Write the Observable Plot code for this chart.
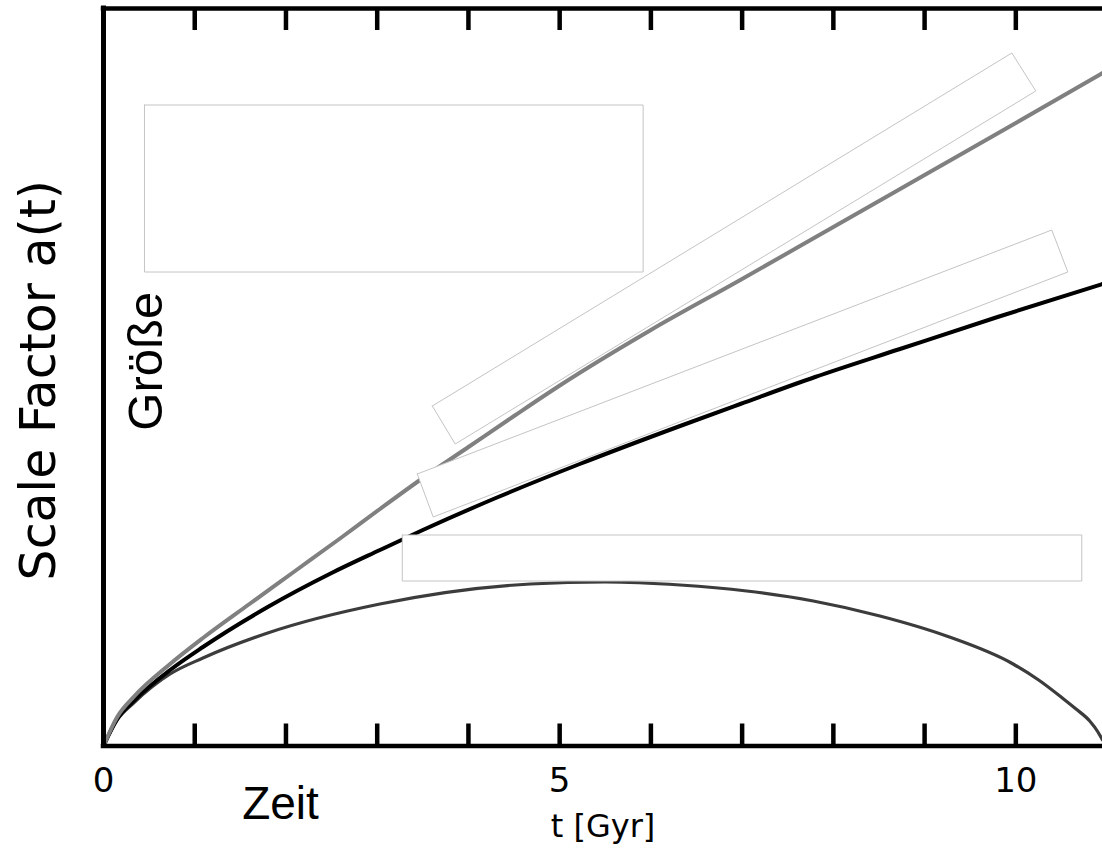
<!DOCTYPE html>
<html>
<head>
<meta charset="utf-8">
<script src="https://cdn.jsdelivr.net/npm/d3@7"></script>
<script src="https://cdn.jsdelivr.net/npm/@observablehq/plot@0.6"></script>
<style>
  html, body { margin: 0; padding: 0; background: #fff; }
  #chart svg { display: block; }
</style>
</head>
<body>
<div id="chart"></div>
<script>
// ---- data ----
const tOpen  = [0, 0.15, 0.33, 0.73, 1.09, 1.6, 2.1, 2.6, 3.03, 3.5, 4.0, 4.5, 5.01, 6.0, 6.98, 8.0, 9.0, 10.0, 10.95];
const aOpen  = [0, 0.29, 0.49, 0.82, 1.08, 1.42, 1.75, 2.08, 2.37, 2.68, 2.99, 3.30, 3.61, 4.16, 4.66, 5.19, 5.71, 6.23, 6.73];

const tFlat  = [0, 0.15, 0.33, 0.73, 1.09, 1.80, 2.50, 3.03, 3.50, 4.30, 5.22, 6.32, 6.98, 7.80, 8.73, 9.80, 10.95];
const aFlat  = [0, 0.27, 0.45, 0.76, 0.99, 1.39, 1.73, 1.96, 2.16, 2.48, 2.82, 3.20, 3.42, 3.69, 3.97, 4.29, 4.62];

const tClosed = [0, 0.15, 0.33, 0.73, 1.09, 1.80, 3.03, 4.68, 5.50, 6.32, 7.05, 7.78, 8.51, 9.24, 9.97, 10.25, 10.51, 10.66, 10.81, 10.90, 10.95];
const aClosed = [0, 0.26, 0.43, 0.72, 0.88, 1.13, 1.42, 1.62, 1.64, 1.61, 1.55, 1.45, 1.30, 1.10, 0.82, 0.66, 0.48, 0.37, 0.25, 0.14, 0.06];

const xTicks = [1, 2, 3, 4, 5, 6, 7, 8, 9, 10];
const xTickLabels = [0, 5, 10];
const xLabel = "t [Gyr]";
const yLabel = "Scale Factor a(t)";
const xNote = "Zeit";
const yNote = "Größe";

// blank label boxes (corners in data units)
const boxIds = ["A","A","A","A","A", "B","B","B","B","B", "C","C","C","C","C", "D","D","D","D","D"];
const boxT = [0.449, 5.915, 5.915, 0.449, 0.449,
              3.275, 10.723, 10.723, 3.275, 3.275,
              3.604, 9.956, 10.219, 3.855, 3.604,
              3.439, 10.394, 10.570, 3.614, 3.439];
const boxA = [6.41, 6.41, 4.74, 4.74, 6.41,
              2.11, 2.11, 1.65, 1.65, 2.11,
              3.40, 6.93, 6.55, 3.02, 3.40,
              2.72, 5.16, 4.74, 2.29, 2.72];

const xMax = 10.95, yMax = 7.375;

// ---- build tables ----
const openRows   = tOpen.map((t, i) => ({t, a: aOpen[i]}));
const flatRows   = tFlat.map((t, i) => ({t, a: aFlat[i]}));
const closedRows = tClosed.map((t, i) => ({t, a: aClosed[i]}));
const boxes = boxT.map((t, i) => ({t, a: boxA[i], id: boxIds[i]}));

const chart = Plot.plot({
  width: 1102,
  height: 848,
  marginLeft: 103,
  marginRight: 0,
  marginTop: 8,
  marginBottom: 102.5,
  style: {background: "#fff", color: "#000", overflow: "visible"},
  x: {domain: [0, xMax]},
  y: {domain: [0, yMax], axis: null},
  marks: [
    // curves
    Plot.line(closedRows, {x: "t", y: "a", stroke: "#3c3c3c", strokeWidth: 3.2, curve: "monotone-x"}),
    Plot.line(flatRows, {x: "t", y: "a", stroke: "#000", strokeWidth: 4, curve: "monotone-x"}),
    Plot.line(openRows, {x: "t", y: "a", stroke: "#808080", strokeWidth: 4, curve: "monotone-x"}),
    // white label boxes
    Plot.line(boxes, {x: "t", y: "a", z: "id", fill: "white", stroke: "#c4c4c4", strokeWidth: 1, curve: "linear"}),
    // frame
    Plot.ruleY([0, yMax], {stroke: "#000", strokeWidth: 4.5, strokeLinecap: "square"}),
    Plot.ruleX([0], {stroke: "#000", strokeWidth: 5, strokeLinecap: "square"}),
    // inward ticks bottom & top
    Plot.ruleX(xTicks, {x: d => d, y1: 0, y2: 0.22, stroke: "#000", strokeWidth: 4.5}),
    Plot.ruleX(xTicks, {x: d => d, y1: yMax - 0.22, y2: yMax, stroke: "#000", strokeWidth: 4.5}),
    // tick labels
    Plot.axisX({ticks: xTickLabels, tickSize: 0, tickPadding: 22, fontSize: 34, fontFamily: "DejaVu Sans", label: null, tickFormat: d => String(d)}),
    // axis titles
    Plot.text([xLabel], {frameAnchor: "bottom", dy: 68, lineAnchor: "top", fontSize: 32, fontFamily: "DejaVu Sans", fill: "#000"}),
    Plot.text([yLabel], {frameAnchor: "left", dx: -64, dy: 3, rotate: -90, lineAnchor: "middle", textAnchor: "middle", fontSize: 49, fontFamily: "DejaVu Sans", fill: "#000"}),
    // German annotations
    Plot.text([xNote], {frameAnchor: "bottom-left", dx: 177, dy: 58, lineAnchor: "middle", textAnchor: "middle", fontSize: 46, fontFamily: "Liberation Sans", fill: "#000"}),
    Plot.text([yNote], {frameAnchor: "left", dx: 43, dy: -16, rotate: -90, lineAnchor: "middle", textAnchor: "middle", fontSize: 49, fontFamily: "Liberation Sans", fill: "#000"})
  ]
});
document.getElementById("chart").appendChild(chart);
</script>
</body>
</html>
